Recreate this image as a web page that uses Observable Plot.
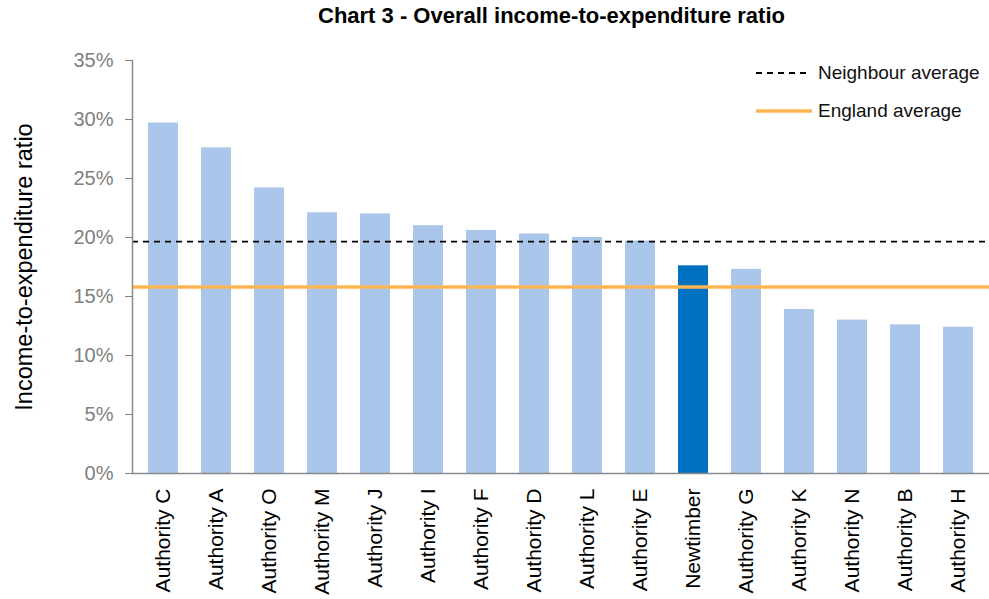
<!DOCTYPE html>
<html>
<head>
<meta charset="utf-8">
<script src="https://cdn.jsdelivr.net/npm/d3@7"></script>
<script src="https://cdn.jsdelivr.net/npm/@observablehq/plot@0.6"></script>
<style>
  html, body { margin: 0; padding: 0; background: #fff; }
  #wrap { position: relative; width: 989px; height: 599px; font-family: "Liberation Sans", Arial, sans-serif; }
  #title { position: absolute; left: 0; width: 1103px; top: 3px; text-align: center; font-weight: bold; font-size: 22px; color: #000; }
  #legend { position: absolute; left: 756px; top: 54px; font-size: 19px; color: #111; }
  .item { display: flex; align-items: center; height: 38px; }
</style>
</head>
<body>
<div id="wrap">
  <div id="title">Chart 3 - Overall income-to-expenditure ratio</div>
  <div id="legend">
    <div class="item"><svg width="52" height="6" style="margin-right:10px"><line x1="0" y1="3" x2="52" y2="3" stroke="#000" stroke-width="2" stroke-dasharray="6,5"/></svg>Neighbour average</div>
    <div class="item"><svg width="56" height="6" style="margin-right:6px"><line x1="0" y1="3" x2="56" y2="3" stroke="#FFB652" stroke-width="3.5"/></svg>England average</div>
  </div>
</div>
<script>
const categories = ["Authority C","Authority A","Authority O","Authority M","Authority J","Authority I","Authority F","Authority D","Authority L","Authority E","Newtimber","Authority G","Authority K","Authority N","Authority B","Authority H"];
const values = [29.7, 27.6, 24.2, 22.1, 22.0, 21.0, 20.6, 20.3, 20.0, 19.7, 17.6, 17.3, 13.9, 13.0, 12.6, 12.4];
const highlight = "Newtimber";
const neighbourAverage = 19.65;
const englandAverage = 15.8;
const yTicks = [0, 5, 10, 15, 20, 25, 30, 35];
const yLabel = "Income-to-expenditure ratio";

const data = categories.map((c, i) => ({category: c, value: values[i]}));

const chart = Plot.plot({
  width: 989,
  height: 599,
  marginLeft: 132,
  marginRight: 0,
  marginTop: 60,
  marginBottom: 126,
  style: {fontFamily: "Liberation Sans, Arial, sans-serif", background: "transparent"},
  x: {domain: categories, paddingInner: 0.44, paddingOuter: 0.22},
  y: {domain: [0, 35]},
  marks: [
    Plot.barY(data, {x: "category", y: "value", fill: d => d.category === highlight ? "#0070C0" : "#AAC6EA"}),
    Plot.ruleY([englandAverage], {stroke: "#FFB652", strokeWidth: 3.5}),
    Plot.ruleY([neighbourAverage], {stroke: "#000", strokeWidth: 1.8, strokeDasharray: "6,5"}),
    Plot.ruleY([0], {stroke: "#8a8a8a", strokeWidth: 1.5}),
    Plot.frame({anchor: "left", stroke: "#8a8a8a", strokeWidth: 1.5}),
    Plot.axisY({ticks: yTicks, tickFormat: d => d + "%", tickSize: 7, tickPadding: 12, fontSize: 20, color: "#808080", label: null}),
    Plot.axisX({tickRotate: -90, tickSize: 0, tickPadding: 15, fontSize: 21, color: "#000", label: null}),
    Plot.text([yLabel], {frameAnchor: "left", textAnchor: "middle", rotate: -90, dx: -108, fontSize: 23.5, fill: "#000"})
  ]
});
document.getElementById("wrap").prepend(chart);
chart.style.position = "absolute";
chart.style.left = "0";
chart.style.top = "0";
</script>
</body>
</html>
